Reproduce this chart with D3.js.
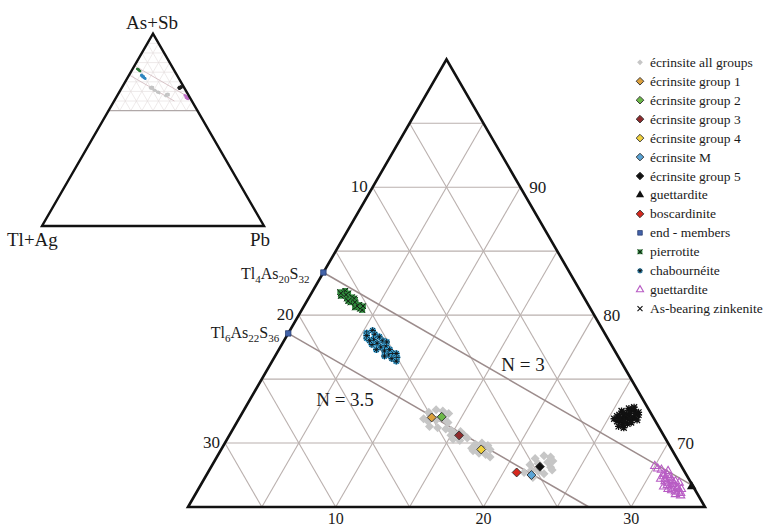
<!DOCTYPE html>
<html><head><meta charset="utf-8">
<script src="https://cdn.jsdelivr.net/npm/d3@7"></script>
<style>body{margin:0;background:#fff}svg{display:block}text{font-family:"Liberation Serif","Times New Roman",serif;fill:#1a1a1a}</style>
</head><body>
<svg id="c" width="766" height="527"></svg>
<script>
// ---- data (Pb %, As+Sb %) ----
const ecrAll = [[12.6,72.4],[13.0,72.6],[13.5,72.5],[14.0,72.3],[12.5,71.9],[12.9,71.7],[13.4,71.8],[13.9,71.9],[14.3,71.6],[13.2,71.3],[13.8,71.2],[14.4,71.1],[12.8,72.2],[13.6,72.0],
 [14.8,71.0],[15.1,70.8],[15.5,70.9],[15.9,70.6],[15.3,70.3],[15.8,70.2],[15.0,70.6],[16.2,70.4],
 [17.0,69.9],[17.4,70.0],[17.9,69.8],[18.2,69.5],[17.1,69.4],[17.6,69.2],[18.1,69.1],[18.5,68.9],[17.3,69.7],[16.9,69.6],
 [21.6,68.8],[22.1,69.0],[22.6,68.9],[21.5,68.3],[22.0,68.4],[22.6,68.5],[23.0,68.1],[21.8,67.9],[22.3,67.8],[22.8,67.6],[22.2,67.3],[21.4,67.7],[23.2,67.9],[22.9,68.6]];
const ecrGroup1 = [[13.0,72.0]];
const ecrGroup2 = [[13.65,72.05]];
const ecrGroup3 = [[15.55,70.6]];
const ecrGroup4 = [[17.6,69.5]];
const ecrM = [[22.0,67.5]];
const ecrGroup5 = [[22.25,68.15]];
const guettarditeBlack = [[33.3,66.6]];
const boscardinite = [[20.9,67.7]];
const endMembers = [[0,83.33],[0,78.57]];
const pierrotite = [[1.9,81.8],[2.2,81.9],[2.1,81.5],[2.5,81.7],[2.6,81.3],[2.9,81.4],[3.0,81.0],[3.2,81.2],[3.4,80.9],[3.5,80.6],[3.7,80.8],[3.9,80.5],[4.1,80.4],[2.4,81.6],[3.1,81.3],[3.6,80.7],[2.8,81.1],[4.0,80.7],[2.0,81.7],[3.3,81.0]];
const chabourneite = [[5.3,78.6],[5.6,78.8],[5.9,78.5],[5.5,78.2],[6.0,78.1],[6.3,78.3],[6.4,77.8],[6.7,78.0],[6.8,77.5],[7.1,77.6],[7.2,77.2],[7.5,77.3],[7.6,76.9],[7.9,77.0],[8.0,76.6],[8.3,76.7],[8.4,76.4],[6.1,77.7],[7.0,77.9],[5.8,78.0],[7.4,76.8],[8.1,77.0],[6.6,77.3],[5.4,78.4]];
const guettarditePink = [[30.0,68.2],[30.3,68.0],[30.6,67.9],[30.9,67.6],[31.2,67.5],[31.5,67.3],[31.3,67.0],[31.7,67.1],[31.9,66.8],[32.2,66.6],[32.4,66.5],[32.1,66.3],[32.6,66.2],[32.8,66.1],[31.6,66.7],[30.9,67.2],[31.4,66.6],[32.0,67.0],[31.1,67.8],[32.5,66.0],
 [31.8,66.4],[32.3,66.9],[31.5,66.9],[32.0,66.5],[32.7,66.4],[31.2,67.2],[31.8,67.0],[32.4,66.2],[31.0,67.4],[32.9,65.9]];
const zinkenite = [[25.6,72.5],[26.0,72.7],[26.4,72.6],[26.8,72.4],[25.5,72.1],[25.9,72.2],[26.3,72.1],[26.7,72.0],[27.0,71.8],[25.7,71.7],[26.1,71.6],[26.5,71.5],[26.0,71.3],[26.4,71.2],[25.8,72.4],[26.6,71.8],[25.4,71.9],[26.2,72.3],[26.9,72.2],[26.3,71.4],
 [26.1,72.0],[26.0,71.8],[26.4,71.9],[25.8,71.9],[26.2,72.5],[26.6,72.3],[26.2,71.7],[25.6,72.2],[26.7,71.6],[26.3,72.8]];
const lineN3 = [[0,83.33],[33.33,66.67]];
const lineN35 = [[0,78.57],[27.14,65]];
const gridValues = [70,75,80,85,90,95];
const pbGrid = [5,10,15,20,25,30];
const tlGrid = [5,10,15,20,25,30];
const leftTicks = [[90,"10"],[80,"20"],[70,"30"]];
const rightTicks = [[90,"90"],[80,"80"],[70,"70"]];
const bottomTicks = [[10,"10"],[20,"20"],[30,"30"]];
const legendLabels = ["écrinsite all groups","écrinsite group 1","écrinsite group 2","écrinsite group 3","écrinsite group 4","écrinsite M","écrinsite group 5","guettardite","boscardinite","end - members","pierrotite","chabournéite","guettardite","As-bearing zinkenite"];
const legendKinds = ["all","g1","g2","g3","g4","M","g5","gtB","bos","end","pie","cha","gtP","zin"];

// ---- scales ----
const svg = d3.select("#c");
const H = 517*Math.sqrt(3)/2;
const xS = d3.scaleLinear().domain([0,35]).range([188,705]);
const yS = d3.scaleLinear().domain([65,100]).range([507,507-H]);
const P = (p,a)=>[xS(p+(a-65)/2), yS(a)];
const xI = d3.scaleLinear().domain([0,100]).range([42,264]);
const yI = d3.scaleLinear().domain([0,100]).range([226,226-222*Math.sqrt(3)/2]);
const PI = (p,a)=>[xI(p+a/2), yI(a)];
const line = d3.line();

const colors = {g1:"#dca03c",g2:"#6cb848",g3:"#8e2a2c",g4:"#f2d23e",M:"#5aa4d6",g5:"#111",bos:"#d6281e"};

// ---- inset ----
const ins = svg.append("g");
const insGrid = ins.append("g").attr("stroke","#e2dcdc").attr("stroke-width",0.6);
[65,70,75,80,85,90,95].forEach(a=>insGrid.append("path").attr("d",line([PI(0,a),PI(100-a,a)])));
[5,10,15,20,25,30,35].forEach(p=>insGrid.append("path").attr("d",line([PI(p,60),PI(p,100-p)])));
[5,10,15,20,25,30,35].forEach(t=>insGrid.append("path").attr("d",line([PI(40-t,60),PI(0,100-t)])));
ins.append("path").attr("d",line([PI(0,60),PI(40,60)])).attr("stroke","#b0a8a8").attr("stroke-width",1.2);
[lineN3,lineN35].forEach(l=>ins.append("path").attr("d",line(l.map(d=>PI(d[0],d[1])))).attr("stroke","#d8c4c8").attr("stroke-width",1));
const insDots=[[pierrotite,"#2f7a3a"],[chabourneite,"#2f86c0"],[zinkenite,"#222"],[guettarditePink,"#c070c8"],[ecrAll,"#c4c4c4"]];
insDots.forEach(([arr,c])=>ins.append("g").selectAll("circle").data(arr).join("circle").attr("cx",d=>PI(d[0],d[1])[0]).attr("cy",d=>PI(d[0],d[1])[1]).attr("r",0.9).attr("fill",c));
ins.append("path").attr("d",line([PI(0,0),PI(100,0),PI(0,100)])+"Z").attr("fill","none").attr("stroke","#111").attr("stroke-width",2.4).attr("stroke-linejoin","miter");
ins.append("text").attr("x",152).attr("y",29).attr("text-anchor","middle").attr("font-size",19).text("As+Sb");
ins.append("text").attr("x",7).attr("y",246).attr("font-size",19).text("Tl+Ag");
ins.append("text").attr("x",250).attr("y",246).attr("font-size",19).text("Pb");

// ---- main grid ----
const g = svg.append("g");
const grid = g.append("g").attr("stroke","#bab0ae").attr("stroke-width",1.1).attr("fill","none");
gridValues.forEach(a=>grid.append("path").attr("d",line([P(0,a),P(100-a,a)])));
pbGrid.forEach(p=>grid.append("path").attr("d",line([P(p,65),P(p,100-p)])));
tlGrid.forEach(t=>grid.append("path").attr("d",line([P(35-t,65),P(0,100-t)])));
[lineN3,lineN35].forEach(l=>g.append("path").attr("d",line(l.map(d=>P(d[0],d[1])))).attr("stroke","#9c8c8c").attr("stroke-width",1.5).attr("fill","none"));
g.append("path").attr("d",line([P(0,65),P(35,65),P(0,100)])+"Z").attr("fill","none").attr("stroke","#111").attr("stroke-width",2.6);

// ticks
leftTicks.forEach(([a,t])=>{const [x,y]=P(0,a);g.append("text").attr("x",x-5).attr("y",y+5).attr("text-anchor","end").attr("font-size",17).text(t);});
rightTicks.forEach(([a,t])=>{const [x,y]=P(100-a,a);g.append("text").attr("x",x+9).attr("y",y+6).attr("font-size",17).text(t);});
bottomTicks.forEach(([p,t])=>{const [x,y]=P(p,65);g.append("text").attr("x",x).attr("y",y+17).attr("text-anchor","middle").attr("font-size",16).text(t);});

// labels
function formula(x,y,parts){
  const t=g.append("text").attr("x",x).attr("y",y).attr("text-anchor","end").attr("font-size",16);
  let shift=0;
  parts.forEach(([s,sub])=>{
    const want = sub?4:0;
    const ts=t.append("tspan").attr("dy",want-shift).text(s);
    if(sub) ts.attr("font-size",11);
    shift=want;
  });
}
{const [x,y]=P(0,83.33); formula(x-14,y+6,[["Tl"],["4",1],["As"],["20",1],["S"],["32",1]]);}
{const [x,y]=P(0,78.57); formula(x-9,y+5,[["Tl"],["6",1],["As"],["22",1],["S"],["36",1]]);}
g.append("text").attr("x",523).attr("y",371).attr("text-anchor","middle").attr("font-size",19).text("N = 3");
g.append("text").attr("x",345).attr("y",406).attr("text-anchor","middle").attr("font-size",19).text("N = 3.5");

// ---- markers ----
const sq = d3.symbol(d3.symbolSquare);
function mark(sel,kind,x,y,scale){
  scale=scale||1;
  const gg=sel.append("g").attr("transform",`translate(${x},${y})`);
  if(kind==="all"){gg.append("path").attr("d",sq.size(26*scale*scale)()).attr("transform","rotate(45)").attr("fill","#c6c6c6");}
  else if(colors[kind]){gg.append("path").attr("d",sq.size(40*scale*scale)()).attr("transform","rotate(45)").attr("fill",colors[kind]).attr("stroke","#333").attr("stroke-width",0.9);}
  else if(kind==="gtB"){gg.append("path").attr("d",d3.symbol(d3.symbolTriangle,40*scale*scale)()).attr("fill","#111");}
  else if(kind==="end"){gg.append("path").attr("d",sq.size(30*scale*scale)()).attr("fill","#4262a8").attr("stroke","#24386a").attr("stroke-width",0.7);}
  else if(kind==="pie"){const s=2.8*scale;gg.append("rect").attr("x",-s).attr("y",-s).attr("width",2*s).attr("height",2*s).attr("fill","#2f8c3c");
    gg.append("path").attr("d",`M${-s},${-s}L${s},${s}M${-s},${s}L${s},${-s}`).attr("stroke","#111").attr("stroke-width",1);}
  else if(kind==="cha"){const s=3*scale;gg.append("circle").attr("r",s).attr("fill","#3aaae2");
    gg.append("path").attr("d",`M${-s},0L${s},0M0,${-s}L0,${s}M${-s*.7},${-s*.7}L${s*.7},${s*.7}M${-s*.7},${s*.7}L${s*.7},${-s*.7}`).attr("stroke","#111").attr("stroke-width",0.9);}
  else if(kind==="gtP"){gg.append("path").attr("d",d3.symbol(d3.symbolTriangle,30*scale*scale)()).attr("fill","none").attr("stroke","#b85cc4").attr("stroke-width",1.1);}
  else if(kind==="zin"){const s=2.6*scale;gg.append("path").attr("d",`M${-s},${-s}L${s},${s}M${-s},${s}L${s},${-s}M${-s*1.2},0L${s*1.2},0M0,${-s*1.2}L0,${s*1.2}`).attr("stroke","#111").attr("stroke-width",1.3);}
}
function plot(arr,kind,scale){const gg=g.append("g");arr.forEach(d=>{const [x,y]=P(d[0],d[1]);mark(gg,kind,x,y,scale);});}
plot(ecrAll,"all",1.25);
plot(pierrotite,"pie",1);
plot(chabourneite,"cha",1.1);
plot(zinkenite,"zin",1.15);
plot(guettarditePink,"gtP",1);
plot(guettarditeBlack,"gtB",1);
plot(endMembers,"end",1);
plot(ecrGroup1,"g1");plot(ecrGroup2,"g2");plot(ecrGroup3,"g3");plot(ecrGroup4,"g4");
plot(boscardinite,"bos");plot(ecrM,"M");plot(ecrGroup5,"g5");

// ---- legend ----
const lg = svg.append("g");
legendLabels.forEach((lab,i)=>{
  const yy = i<13? 62.3+i*18.95 : 62.3+12*18.95+18.9;
  const k = legendKinds[i];
  const lk = k==="zin"?"zinL":k;
  if(lk==="zinL"){const s=2.5;lg.append("path").attr("d",`M${640-s},${yy-s}L${640+s},${yy+s}M${640-s},${yy+s}L${640+s},${yy-s}`).attr("stroke","#111").attr("stroke-width",1.1);}
  else mark(lg,k,640,yy,i===0?0.8:0.85);
  lg.append("text").attr("x",650).attr("y",yy+4.5).attr("font-size",13.5).text(lab);
});
</script>
</body></html>
